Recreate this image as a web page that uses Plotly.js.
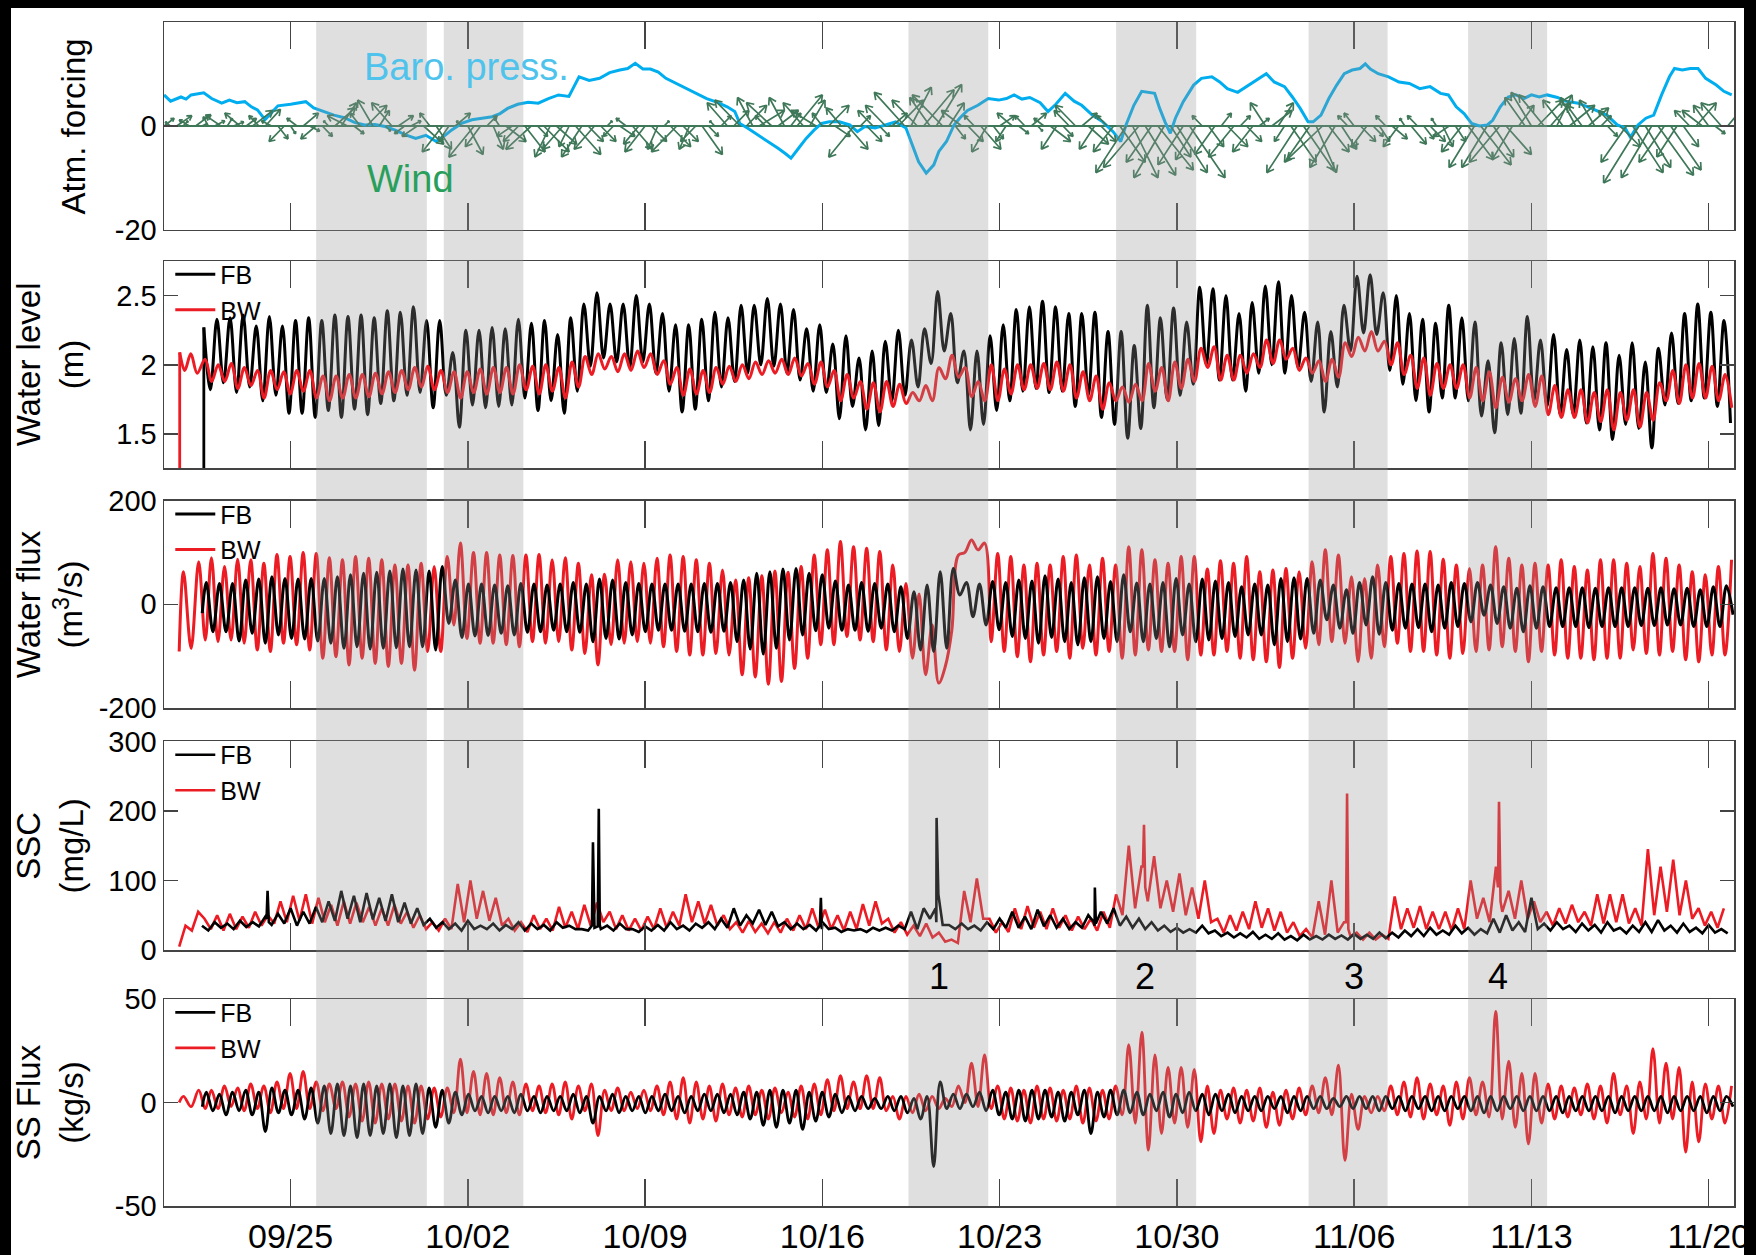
<!DOCTYPE html>
<html><head><meta charset="utf-8">
<script src="https://cdn.plot.ly/plotly-3.0.1.min.js"></script>
<style>
html,body{margin:0;padding:0;background:#000;width:1756px;height:1255px;overflow:hidden}
#plot{position:absolute;left:11px;top:8px;width:1733px;height:1247px;background:#fff}
</style></head><body><div id="plot"></div>
<script>
// ---------------- DATA ----------------
// time is in days since 09/20 00:00
const tickDays = [5,12,19,26,33,40,47,54,61];
const tickText = ['09/25','10/02','10/09','10/16','10/23','10/30','11/06','11/13','11/20'];
const bandStart = [6.01, 11.05, 29.4, 37.6, 45.2, 51.5];
const bandEnd   = [10.38, 14.19, 32.55, 40.76, 48.32, 54.62];
const eventLabels = ['1','2','3','4'];
const eventDays = [30.6, 38.74, 47.0, 52.67];

// barometric pressure anomaly
const baroDays = [0,0.26,0.67,0.87,1.07,1.57,1.88,2.28,2.58,2.88,3.19,3.45,3.69,3.99,4.29,4.5,5.0,5.3,5.6,5.91,6.31,6.71,7.12,7.52,7.92,8.33,8.73,9.13,9.54,9.94,10.34,10.75,11.05,11.35,11.75,12.16,12.56,12.96,13.27,13.57,13.97,14.38,14.78,15.18,15.58,15.99,16.39,16.79,17.2,17.6,18.0,18.31,18.61,18.91,19.21,19.52,19.82,20.22,20.63,21.03,21.43,21.83,22.24,22.54,22.74,23.04,23.45,23.85,24.25,24.56,24.76,25.06,25.36,25.67,25.97,26.27,26.67,27.08,27.38,27.68,28.08,28.49,28.89,29.3,29.5,29.8,30.1,30.4,30.6,30.9,31.2,31.42,31.73,32.14,32.55,32.96,33.27,33.57,33.88,34.19,34.6,34.91,35.22,35.59,35.94,36.24,36.66,37.07,37.48,37.78,37.99,38.3,38.61,38.91,39.12,39.32,39.53,39.74,39.94,40.25,40.66,40.97,41.38,41.69,41.99,42.4,42.82,43.23,43.53,43.84,44.25,44.56,44.87,45.18,45.38,45.69,46.0,46.31,46.61,46.92,47.23,47.44,47.64,47.95,48.36,48.77,49.18,49.59,50.0,50.41,50.72,51.03,51.34,51.64,51.95,52.26,52.47,52.77,53.08,53.39,53.7,54.0,54.31,54.62,55.03,55.34,55.85,56.37,56.98,57.39,57.7,57.91,58.21,58.52,58.83,59.14,59.45,59.65,59.96,60.27,60.58,60.88,61.3,61.6,61.91];
const baroVals = [6.0,4.8,5.6,5.2,6.0,6.4,5.3,4.4,5.0,4.5,4.7,3.7,3.1,1.2,2.8,3.9,4.2,4.4,4.7,3.5,2.8,2.1,1.6,0.7,0.2,0.3,-0.1,-0.8,-1.7,-2.4,-1.8,-3.0,-2.0,-0.8,0.5,1.2,1.5,1.8,2.4,3.4,4.2,4.6,4.4,5.3,6.0,5.7,9.5,8.8,9.2,10.3,10.8,11.1,12.1,11.0,11.0,10.4,9.2,8.2,7.2,6.3,5.3,4.6,3.7,2.8,0.5,-0.4,-1.7,-3.0,-4.3,-5.4,-6.2,-4.3,-2.4,-0.8,0.5,0.8,0.8,0.2,-1.1,-0.1,-0.4,0.2,0.8,-0.4,-3.0,-6.9,-9.1,-7.5,-4.9,-3.0,0.2,1.5,3.0,4.0,5.3,5.0,5.3,6.0,5.2,5.5,4.5,2.8,4.2,6.3,4.8,4.0,2.1,0.8,-1.1,-3.0,0.2,4.0,6.7,6.5,6.3,3.4,0.8,-1.4,1.5,4.7,7.9,9.2,9.5,8.5,7.2,6.5,7.9,9.2,10.1,8.5,7.6,5.6,3.4,0.8,0.8,2.1,5.3,7.9,10.1,10.8,11.1,12.0,11.0,10.1,9.5,8.5,8.2,7.2,7.6,6.3,6.0,3.7,2.4,0.5,0.0,0.2,1.1,3.7,5.6,6.0,5.3,6.0,5.6,6.0,5.5,4.8,4.4,3.4,2.1,0.2,-0.4,-2.2,0.2,1.5,2.1,6.0,9.5,11.1,10.8,11.1,11.1,9.2,7.9,6.7,6.0];

// wind components, 6-hourly from day 0
const WIND_T0 = 0, WIND_DT = 0.25, WIND_U_SCALE = 0.2;
const windV = [1.5,0.8,2.0,1.0, 1.2,2.2,0.5,1.8, 1.0,2.0,1.5,0.8, 2.5,1.5,3.0,2.0, 3.2,1.0,-2.5,-3.0, -1.5,1.5,2.5,-1.0, -2.5,-2.0,1.0,3.5, 4.5,2.0,-1.5,2.5, 4.0,5.0,3.0,-1.0, 4.5,2.0,-1.5,1.0,
 -2.0,-3.5,2.5,-4.5, -5.0,-3.0,2.5,1.0, -5.5,-6.0,-4.0,2.0, -4.5,1.5,-3.0,-2.0, -3.0,-5.0,-4.5,-2.0, -5.0,-6.0,-3.5,-4.5, -4.0,-5.5,-6.0,-3.0, -4.5,-3.0,1.0,-2.0, -2.0,1.5,-4.5,-3.5, -5.0,-3.0,-4.5,1.0,
 -4.0,-5.0,-3.0,-4.5, -3.0,-5.5,-2.0,1.0, 2.0,4.5,3.0,5.0, 4.0,5.5,3.0,2.0, 4.5,3.0,5.5,2.5, 6.0,4.5,5.0,3.0, 2.5,4.0,-2.0,3.5, -4.5,-6.0,2.0,-3.0, 3.0,-2.0,4.0,2.5, 5.0,6.5,7.5,5.0,
 7.0,5.5,8.0,6.0, 4.5,-2.5,3.0,-3.0, 2.0,-4.5,-5.0,-2.5, 2.0,-3.0,2.5,-1.5, 2.0,2.5,-1.0,1.5, -3.0,-4.5,-2.0,3.0, 4.0,2.5,-3.5,-4.5, -3.0,2.0,-5.0,-7.0, -9.0,-10.0,-8.0,-9.5, -7.0,-8.5,-10.0,-6.0,
 -9.0,-7.5,-10.0,-6.5, 2.0,-4.0,-5.5,2.5, -4.0,-6.0,2.0,-3.0, -5.0,1.5,4.5,3.0, 4.5,-3.0,-7.0,-9.0, -8.5,-7.0,-9.0,-6.5, -5.0,-8.0,-4.5,2.0, 2.5,-3.0,-4.0,-2.0, -3.0,2.0,-2.5,-4.0, 1.5,-3.5,2.0,-2.5,
 -3.0,1.5,-4.0,-2.0, -3.0,-5.0,-6.5,-8.0, -7.5,-8.0,-6.0,-7.0, -5.5,-6.5,4.0,5.5, 6.5,5.0,6.0,4.5, 6.0,5.0,4.0,5.5, 4.0,3.5,5.0,2.0, -2.0,3.0,-4.0,-7.0, -9.0,-11.0,-8.0,-10.0, -9.5,-7.0,-8.5,-6.0,
 -4.0,3.0,4.5,3.0, 4.0,-1.5,4.5,3.5];
const windU = [2,-1,3,1, -2,3,1,-1, 2,-3,1,2, -3,2,4,-2, 3,-2,2,-3, 1,-2,3,2, -3,2,-1,4, 3,-4,2,-2, 4,-3,2,1, -4,3,-2,2,
 -3,4,-2,3, -4,-2,3,-1, 3,-5,-3,2, 2,-1,4,-3, -3,4,-5,2, 5,-3,4,-4, -2,5,-4,3, -4,3,1,-2, 3,-2,4,-3, -4,3,-2,1,
 4,-5,3,-2, -3,4,2,-1, 2,-4,3,-5, 4,-3,5,-2, -5,4,-3,2, 5,-4,3,-5, -2,4,3,-3, 4,-5,2,3, -3,2,-4,3, 5,-6,4,-5,
 6,-4,5,-6, 3,2,-4,3, -2,4,-3,2, 3,-2,-3,2, -2,3,1,-2, 4,-3,2,-3, -4,3,4,-3, 3,-2,-4,5, -6,5,-7,6, -5,7,-6,4,
 6,-5,7,-4, -2,3,-4,2, 4,-5,2,3, -4,2,-3,4, 3,-2,5,-6, 6,-5,4,-7, 4,-5,3,-2, -2,3,-3,2, 2,-2,3,-3, -1,3,-2,2,
 3,-1,2,-3, 2,-4,5,-5, 6,-5,4,-6, 5,-4,3,-4, -4,5,-5,4, 3,-4,5,-3, -3,4,-3,2, 2,-3,4,-5, 6,-7,5,-6, 7,-5,6,-4,
 3,-3,4,-4, -3,2,-4,3];

// tidal series: successive high / low values, semidiurnal period
const TIDE_P = 0.5175;
const WL_FB_T0 = 1.573, WL_BW_T0 = 1.623;
const wlFBHigh = [2.27,2.33,2.34,2.36,2.28,2.35,2.28,2.32,2.34,2.32,2.36,2.35,2.36,2.34,2.39,2.38,2.42,2.32,2.32,2.09,2.25,2.25,2.27,2.26,2.33,2.30,2.32,2.22,2.34,2.44,2.52,2.44,2.44,2.50,2.44,2.37,2.29,2.29,2.33,2.38,2.34,2.43,2.43,2.48,2.44,2.40,2.26,2.29,2.15,2.21,2.05,2.10,2.17,2.25,2.18,2.26,2.53,2.37,2.10,2.10,2.21,2.29,2.40,2.42,2.46,2.42,2.37,2.37,2.38,2.24,2.24,2.14,2.43,2.34,2.41,2.31,2.56,2.55,2.50,2.37,2.45,2.57,2.60,2.50,2.38,2.31,2.24,2.43,2.64,2.65,2.52,2.50,2.37,2.33,2.30,2.43,2.34,2.31,2.03,2.16,2.19,2.35,2.18,2.22,2.11,2.18,2.13,2.16,2.07,2.16,2.02,2.12,2.23,2.37,2.44,2.38,2.32];
const wlFBLow = [1.82,1.87,1.80,1.84,1.74,1.78,1.65,1.65,1.62,1.67,1.62,1.68,1.64,1.72,1.74,1.78,1.80,1.69,1.78,1.55,1.71,1.69,1.70,1.71,1.76,1.67,1.74,1.65,1.81,1.99,2.05,2.02,1.98,2.02,1.94,1.81,1.66,1.68,1.74,1.84,1.88,1.94,2.00,1.99,1.94,1.89,1.81,1.80,1.61,1.70,1.53,1.56,1.74,1.78,1.84,2.01,2.10,1.87,1.53,1.57,1.67,1.74,1.81,1.83,1.80,1.81,1.70,1.78,1.62,1.57,1.47,1.54,1.69,1.75,1.78,1.86,2.00,1.89,1.89,1.81,1.94,2.00,1.94,1.98,1.88,1.66,1.84,2.10,2.23,2.22,1.96,1.86,1.74,1.66,1.76,1.76,1.74,1.63,1.51,1.64,1.65,1.74,1.70,1.64,1.64,1.58,1.53,1.46,1.57,1.54,1.40,1.71,1.72,1.74,1.76,1.70];
const wlFBEnd = 1.58;
const wlBWPreDays = [0.62,0.82,1.06,1.31];
const wlBWPreVals = [2.09,1.96,2.08,1.94];
const wlBWHigh = [2.04,2.00,2.01,1.98,1.96,1.96,1.95,1.96,1.96,1.92,1.92,1.93,1.93,1.94,1.95,1.96,1.98,1.99,1.96,1.95,1.95,1.97,1.98,1.98,2.00,1.99,2.00,1.98,2.02,2.06,2.08,2.06,2.08,2.10,2.08,2.03,1.98,1.97,1.96,1.98,1.99,2.00,2.02,2.03,2.04,2.05,2.01,2.02,1.96,1.93,1.88,1.87,1.88,1.86,1.80,1.85,1.98,2.07,1.98,1.88,2.00,1.97,2.00,2.00,2.01,2.02,2.00,1.95,1.92,1.87,1.84,1.86,2.01,1.98,2.02,2.04,2.12,2.13,2.07,2.07,2.08,2.18,2.18,2.12,2.05,2.03,2.04,2.16,2.20,2.24,2.17,2.16,2.07,2.05,2.01,2.00,2.00,1.98,1.95,1.91,1.90,1.93,1.92,1.85,1.82,1.82,1.80,1.82,1.80,1.82,1.80,1.87,1.96,2.00,2.01,1.99,1.93];
const wlBWLow = [1.88,1.88,1.83,1.85,1.76,1.82,1.79,1.81,1.76,1.74,1.76,1.76,1.77,1.79,1.80,1.82,1.84,1.82,1.80,1.76,1.80,1.79,1.80,1.79,1.82,1.79,1.81,1.76,1.84,1.93,1.97,1.95,1.96,1.98,1.93,1.86,1.78,1.79,1.80,1.86,1.88,1.90,1.93,1.94,1.93,1.92,1.86,1.84,1.74,1.76,1.68,1.66,1.70,1.72,1.74,1.74,1.90,1.91,1.77,1.74,1.74,1.79,1.82,1.83,1.82,1.81,1.76,1.74,1.68,1.74,1.73,1.74,1.81,1.74,1.83,1.88,1.98,1.89,1.89,1.94,1.98,2.01,2.04,1.96,1.94,1.88,1.91,2.06,2.10,2.10,2.00,1.93,1.83,1.78,1.83,1.83,1.76,1.74,1.69,1.73,1.74,1.70,1.64,1.62,1.62,1.58,1.59,1.53,1.60,1.55,1.60,1.74,1.72,1.76,1.76,1.74];
const wlBWEnd = 1.69;
const WL_OFFSCALE = 1.0; // value before the sensors start recording

// water flux (m3/s)
const FLUX_FB_T0 = 1.673, FLUX_BW_T0 = 1.873;
const fluxFBPreDays = [1.51], fluxFBPreVals = [-17];
const fluxFBHigh = [42,40,40,47,49,53,50,49,50,50, 53,57,60,62,64,68,66,64,73,47, 39,39,37,36,40,39,37,39,42,39, 49,47,42,40,39,39,39,39,40,40, 42,47,60,63,68,69,60,57,45,37, 42,40,39,34,24,37,63,69,42,39, 44,42,47,45,55,49,42,51,53,44, 57,41,39,42,50,39,49,45,42,34, 39,37,50,51,50,47,37,28,42,53, 42,40,39,39,37,42,40,42,37,34, 31,36,34,32,32,32,31,32,32,32, 31,32,30,31,28,34,36];
const fluxFBLow = [-53,-53,-71,-56,-75,-59,-66,-67,-71,-75, -85,-82,-86,-85,-84,-82,-82,-88,-37,-64, -61,-60,-56,-59,-54,-53,-50,-53,-54,-72, -66,-67,-59,-53,-50,-50,-52,-53,-54,-52, -72,-86,-96,-85,-69,-59,-51,-46,-50,-50, -52,-46,-53,-66,-88,-91,-85,18,-24,-40, -49,-62,-66,-75,-64,-72,-78,-72,-66,-72, -53,-72,-66,-82,-59,-72,-69,-66,-62,-59, -59,-78,-72,-67,-56,-30,-46,-56,-40,-58, -50,-46,-45,-53,-46,-43,-34,-21,-37,-46, -53,-46,-43,-43,-43,-45,-43,-43,-43,-41, -41,-40,-40,-43,-43,-43];
const fluxFBEnd = -20;
const fluxBWPreDays = [0.6,0.77,1.07,1.37,1.63];
const fluxBWPreVals = [-91,63,-85,82,-69];
const fluxBWHigh = [90,73,87,86,79,96,92,100,98,90, 86,92,89,86,76,76,79,73,92,118, 100,100,95,94,95,96,86,90,79,57, 58,86,82,79,89,95,92,86,79,66, 47,51,55,64,62,73,95,105,121,111, 108,102,76,40,20,-40,-120,95,124,118, 98,92,76,79,76,92,95,76,89,76, 111,105,86,79,92,92,68,84,79,92, 63,66,69,63,82,105,95,53,50,76, 92,98,103,102,87,76,69,76,111,89, 76,79,76,86,73,66,86,86,79,73, 98,89,76,63,57,73,86];
const fluxBWLow = [-72,-69,-75,-88,-91,-75,-78,-88,-104,-101, -117,-104,-114,-120,-114,-127,-91,-91,-40,-66, -75,-75,-78,-82,-72,-75,-72,-88,-95,-117, -78,-75,-72,-75,-82,-91,-98,-98,-95,-98, -136,-140,-154,-149,-124,-104,-78,-78,-62,-69, -72,-88,-91,-104,-136,-152,-50,100,105,-72, -91,-101,-111,-98,-91,-104,-85,-98,-91,-104, -98,-88,-91,-91,-107,-98,-98,-91,-104,-107, -111,-122,-104,-85,-78,-72,-75,-111,-104,-82, -75,-91,-91,-98,-104,-95,-91,-88,-82,-91, -111,-91,-98,-104,-104,-107,-104,-104,-88,-95, -98,-91,-107,-111,-98,-98];

// suspended sediment concentration (mg/L), 6-hourly, plus short spikes
const SSC_DT = 0.25, SSC_FB_T0 = 1.5, SSC_BW_T0 = 0.6;
const sscFB = [35,28,40,32, 38,30,42,33, 40,34,48,36, 52,38,60,35, 55,38,62,40, 70,42,85,45, 78,40,82,44, 75,42,80,40, 68,38,60,36, 45,32,40,30,
 38,28,42,30, 35,30,38,28, 36,30,40,28, 38,30,36,28, 40,32,35,30, 30,28,32,30, 35,28,38,30, 30,26,34,28, 36,28,40,30, 35,28,38,32,
 40,30,45,32, 60,35,50,38, 58,36,55,34, 40,30,38,30, 36,28,40,30, 32,26,30,28, 30,26,32,28, 32,28,35,30, 55,30,60,45, 40,36,36,30,
 38,30,35,28, 40,30,45,32, 55,32,48,30, 58,34,50,32, 45,30,40,32, 50,35,55,38, 60,35,48,32, 45,30,40,28, 35,26,32,25, 30,25,35,24,
 28,20,25,18, 24,18,26,16, 22,16,24,15, 20,14,22,15, 20,15,22,16, 21,15,23,16, 22,16,25,17, 25,18,28,20, 30,20,32,22, 28,22,35,24,
 32,22,30,24, 45,25,50,28, 40,26,75,30, 38,28,40,30, 35,26,38,28, 36,25,40,28, 32,24,35,26, 40,26,43,28, 35,25,38,26, 32,24,36,25, 30,24];
const sscFBSpikeDays = [4.05,4.09,4.14, 16.9,16.94,16.98, 17.13,17.17,17.21, 25.9,25.94,25.98, 30.47,30.51,30.58, 36.72,36.76,36.8];
const sscFBSpikeVals = [45,85,40, 35,155,32, 34,203,36, 35,75,30, 60,190,80, 40,90,38];
const sscBW = [5,35,28,55, 45,30,50,28, 52,30,48,32, 55,35,50,38, 70,40,78,42, 80,38,75,40, 65,35,70,38, 68,40,62,35, 60,35,65,38, 55,32,50,30,
 40,28,45,30, 95,40,100,45, 85,42,75,35, 45,28,40,26, 50,30,45,28, 62,32,55,30, 65,35,68,40, 55,30,50,28, 45,28,48,30, 60,32,55,35,
 80,40,70,38, 65,35,50,30, 40,25,42,26, 38,24,40,25, 45,28,50,30, 60,32,58,30, 50,28,55,30, 66,35,70,38, 45,25,40,22, 35,20,38,18,
 25,12,15,10, 85,40,103,45, 45,25,40,26, 60,30,63,32, 55,30,60,32, 50,28,48,30, 45,28,55,32, 80,50,150,60, 120,70,135,60, 100,55,110,50,
 90,45,100,40, 45,25,50,28, 55,30,70,32, 60,28,55,25, 40,20,30,18, 70,22,100,25, 40,20,25,15, 25,15,22,16, 77,30,60,32, 63,30,55,30,
 55,28,60,30, 100,45,75,40, 120,55,85,45, 100,45,70,40, 55,35,60,38, 65,40,55,35, 80,38,80,40, 80,38,60,35, 145,50,120,55, 130,50,100,45,
 60,35,55,32, 60];
const sscBWSpikeDays = [38.66,38.7,38.75, 46.68,46.72,46.77, 52.68,52.72,52.78];
const sscBWSpikeVals = [120,180,90, 40,225,30, 90,213,70];

// suspended sediment flux (kg/s)
const ssFBPreDays = [1.51], ssFBPreVals = [-2];
const ssFBHigh = [5,4,5,6,5,7,6,6,7,8, 9,8,9,8,9,8,9,7,6,5, 4,3,3,3,4,3,3,3,4,3, 3,4,3,3,3,4,3,3,4,4, 4,5,5,6,6,6,5,5,4,3, 3,2,3,3,2,3,10,4,4,5, 6,5,6,6,6,5,5,6,5,6, 6,5,4,5,4,5,4,4,4,3, 3,3,3,3,3,3,2,3,3,3, 3,3,3,3,3,3,3,3,3,3, 3,3,3,3,3,3,3,3,3,3, 3,3,3,3,3,3,3];
const ssFBLow = [-4,-6,-4,-6,-14,-5,-6,-8,-10,-15, -16,-17,-16,-15,-17,-16,-15,-12,-10,-6, -4,-5,-4,-5,-4,-5,-4,-4,-5,-10, -4,-5,-4,-5,-4,-4,-5,-4,-4,-5, -6,-8,-11,-12,-10,-13,-9,-7,-5,-4, -3,-3,-4,-5,-8,-31,-3,-3,-2,-4, -6,-8,-9,-8,-7,-9,-6,-15,-7,-6, -5,-6,-4,-7,-5,-4,-6,-4,-5,-4, -4,-3,-5,-4,-3,-3,-2,-3,-3,-4, -3,-4,-3,-4,-4,-3,-4,-5,-4,-3, -4,-4,-4,-5,-4,-4,-4,-5,-4,-4, -4,-5,-4,-4,-5,-4];
const ssFBEnd = -2;
const ssBWPreDays = [0.6,0.77,1.07,1.37,1.63];
const ssBWPreVals = [0,3,-2,6,-3];
const ssBWHigh = [6,8,7,9,8,10,14,15,10,9, 10,9,10,9,9,8,8,7,7,21, 15,14,12,10,9,8,9,10,8,9, 6,7,5,6,8,10,12,10,8,9, 7,8,6,7,5,8,9,11,13,10, 13,12,3,3,4,3,2,8,19,23, 8,7,6,8,7,6,8,7,6,8, 28,34,23,17,17,16,8,6,7,6, 7,5,6,7,8,12,18,4,3,3, 8,10,12,9,8,10,12,10,44,20, 14,14,9,8,7,9,8,14,8,10, 26,19,17,10,9,8,8];
const ssBWLow = [-3,-2,-4,-3,-5,-3,-3,-3,-4,-3, -7,-9,-10,-8,-9,-10,-8,-7,-5,-5, -6,-6,-5,-6,-4,-5,-6,-8,-4,-16, -4,-4,-3,-4,-6,-8,-10,-8,-9,-6, -7,-6,-8,-5,-7,-8,-6,-4,-3,-3, -3,-4,-8,-5,-4,-3,-2,0,-2,-3, -8,-9,-10,-8,-9,-8,-10,-9,-8,-6, -10,-23,-15,-10,-12,-19,-15,-8,-10,-9, -12,-11,-8,-6,-5,-6,-28,-13,-5,-4, -6,-7,-8,-6,-11,-8,-6,-7,-8,-12, -20,-10,-8,-7,-6,-8,-10,-6,-15,-8, -10,-8,-24,-19,-8,-10];

// ---------------- helpers ----------------
const DAY_MS = 86400000;
const BASE_MS = Date.UTC(2016, 8, 20);
function dstr(d){ return new Date(BASE_MS + Math.round(d*DAY_MS)).toISOString().slice(0,19).replace('T',' '); }
function zipPairs(days, vals){ return days.map((d,i)=>[d, vals[i]]); }
function tideSeries(preDays, preVals, t0, highs, lows, endVal){
  const x=[], y=[];
  zipPairs(preDays, preVals).forEach(p=>{x.push(dstr(p[0])); y.push(p[1]);});
  let last = t0;
  for(let k=0;k<highs.length;k++){
    const th = t0 + k*TIDE_P;
    x.push(dstr(th)); y.push(highs[k]); last = th;
    if(k<lows.length){ x.push(dstr(th+TIDE_P/2)); y.push(lows[k]); last = th+TIDE_P/2; }
  }
  if(endVal!==undefined && endVal!==null){ x.push(dstr(Math.min(62, last+TIDE_P/2))); y.push(endVal); }
  return {x,y};
}
function sampled(t0, dt, vals, spikeDays, spikeVals){
  const pts = vals.map((v,i)=>[t0+i*dt, v]).concat(zipPairs(spikeDays, spikeVals));
  pts.sort((a,b)=>a[0]-b[0]);
  return {x: pts.map(p=>dstr(p[0])), y: pts.map(p=>p[1])};
}

const FONT = 'Liberation Sans, Arial, sans-serif';
const RED = '#ec1c24', BLACK = '#000000', BLUE = '#00aeef', GREEN = 'rgb(62,120,88)';

// ---------------- layout geometry ----------------
const H = 1184, BOT = 1206, PLOT_W = 1570;
function dom(topPx, botPx){ return [(BOT-botPx)/H, (BOT-topPx)/H]; }
const doms = [dom(22.4,229.6), dom(261,468), dom(500.6,708), dom(741.4,950), dom(999,1206)];
const PX_PER_DAY = PLOT_W/62, PX_PER_UNIT1 = (229.6-22.4)/40;

const traces = [];
// Panel 1: atmospheric forcing
traces.push({type:'scatter', mode:'lines', x: baroDays.map(dstr), y: baroVals, xaxis:'x', yaxis:'y',
  line:{color:BLUE, width:3}, showlegend:false, hoverinfo:'skip'});
// wind sticks with small arrow heads
const wx=[], wy=[];
for(let i=0;i<windV.length;i++){
  const t = WIND_T0 + i*WIND_DT;
  const du = windU[i]*WIND_U_SCALE, v = windV[i];
  wx.push(dstr(t), dstr(t + du)); wy.push(0, v);
  const px = du*PX_PER_DAY, py = v*PX_PER_UNIT1, L = Math.hypot(px,py);
  if(L > 4){
    const ang = Math.atan2(py, px), h = Math.min(8, 0.3*L);
    [-0.55, 0.55].forEach((a,j)=>{
      const hx = px - h*Math.cos(ang + a), hy = py - h*Math.sin(ang + a);
      if(j===0){ wx.push(dstr(t + hx/PX_PER_DAY)); wy.push(hy/PX_PER_UNIT1); }
      else { wx.push(null, dstr(t+du), dstr(t + hx/PX_PER_DAY)); wy.push(null, v, hy/PX_PER_UNIT1); }
    });
  }
  wx.push(null); wy.push(null);
}
traces.push({type:'scatter', mode:'lines', x: wx, y: wy, xaxis:'x', yaxis:'y',
  line:{color:GREEN, width:1.7}, showlegend:false, hoverinfo:'skip'});

// Panel 2: water level
const wlFB = tideSeries([], [], WL_FB_T0, wlFBHigh, wlFBLow, wlFBEnd);
const wlBW = tideSeries(wlBWPreDays, wlBWPreVals, WL_BW_T0, wlBWHigh, wlBWLow, wlBWEnd);
traces.push({type:'scatter', mode:'lines', x:[dstr(WL_FB_T0),dstr(WL_FB_T0)], y:[WL_OFFSCALE, wlFBHigh[0]], xaxis:'x2', yaxis:'y2', line:{color:BLACK,width:2.8}, showlegend:false});
traces.push({type:'scatter', mode:'lines', x:[dstr(wlBWPreDays[0]),dstr(wlBWPreDays[0])], y:[WL_OFFSCALE, wlBWPreVals[0]], xaxis:'x2', yaxis:'y2', line:{color:RED,width:2.8}, showlegend:false});
traces.push({type:'scatter', mode:'lines', name:'FB', x:wlFB.x, y:wlFB.y, xaxis:'x2', yaxis:'y2', line:{color:BLACK,width:3,shape:'spline',smoothing:1}, legend:'legend', legendrank:1});
traces.push({type:'scatter', mode:'lines', name:'BW', x:wlBW.x, y:wlBW.y, xaxis:'x2', yaxis:'y2', line:{color:RED,width:3,shape:'spline',smoothing:1}, legend:'legend', legendrank:2});

// Panel 3: water flux
const qFB = tideSeries(fluxFBPreDays, fluxFBPreVals, FLUX_FB_T0, fluxFBHigh, fluxFBLow, fluxFBEnd);
const qBW = tideSeries(fluxBWPreDays, fluxBWPreVals, FLUX_BW_T0, fluxBWHigh, fluxBWLow);
traces.push({type:'scatter', mode:'lines', name:'BW', x:qBW.x, y:qBW.y, xaxis:'x3', yaxis:'y3', line:{color:RED,width:3,shape:'spline',smoothing:1}, legend:'legend2', legendrank:2});
traces.push({type:'scatter', mode:'lines', name:'FB', x:qFB.x, y:qFB.y, xaxis:'x3', yaxis:'y3', line:{color:BLACK,width:3,shape:'spline',smoothing:1}, legend:'legend2', legendrank:1});

// Panel 4: SSC
const cFB = sampled(SSC_FB_T0, SSC_DT, sscFB, sscFBSpikeDays, sscFBSpikeVals);
const cBW = sampled(SSC_BW_T0, SSC_DT, sscBW, sscBWSpikeDays, sscBWSpikeVals);
traces.push({type:'scatter', mode:'lines', name:'BW', x:cBW.x, y:cBW.y, xaxis:'x4', yaxis:'y4', line:{color:RED,width:2.6}, legend:'legend3', legendrank:2});
traces.push({type:'scatter', mode:'lines', name:'FB', x:cFB.x, y:cFB.y, xaxis:'x4', yaxis:'y4', line:{color:BLACK,width:2.6}, legend:'legend3', legendrank:1});

// Panel 5: SS flux
const sFB = tideSeries(ssFBPreDays, ssFBPreVals, FLUX_FB_T0, ssFBHigh, ssFBLow, ssFBEnd);
const sBW = tideSeries(ssBWPreDays, ssBWPreVals, FLUX_BW_T0, ssBWHigh, ssBWLow);
traces.push({type:'scatter', mode:'lines', name:'BW', x:sBW.x, y:sBW.y, xaxis:'x5', yaxis:'y5', line:{color:RED,width:2.8,shape:'spline',smoothing:1}, legend:'legend4', legendrank:2});
traces.push({type:'scatter', mode:'lines', name:'FB', x:sFB.x, y:sFB.y, xaxis:'x5', yaxis:'y5', line:{color:BLACK,width:2.8,shape:'spline',smoothing:1}, legend:'legend4', legendrank:1});

// ---------------- layout ----------------
function xax(anchor, labels){
  return {type:'date', range:[dstr(0), dstr(62)], anchor:anchor, showgrid:false, zeroline:false,
    showline:true, linecolor:'#444', linewidth:1.5, mirror:'ticks', ticks:'inside', ticklen:27, tickwidth:1.5, tickcolor:'#444',
    tickmode:'array', tickvals: tickDays.map(dstr), ticktext: tickText, showticklabels: labels, ticklabeloverflow:'allow',
    tickfont:{family:FONT, size:34, color:'#000'}};
}
function yax(d, range, tv, tt, anchor){
  return {domain:d, range:range, anchor:anchor, showgrid:false, zeroline:false, showline:true, linecolor:'#444', linewidth:1.5,
    mirror:'ticks', ticks:'inside', ticklen:14, tickwidth:1.5, tickcolor:'#444', tickmode:'array', tickvals:tv, ticktext:tt,
    tickfont:{family:FONT, size:29, color:'#000'}};
}
const layout = {
  width:1733, height:1247, paper_bgcolor:'#fff', plot_bgcolor:'rgba(0,0,0,0)',
  margin:{l:153, r:10, t:14, b:49}, showlegend:true,
  font:{family:FONT, color:'#000'},
  xaxis: xax('y', false), xaxis2: xax('y2', false), xaxis3: xax('y3', false), xaxis4: xax('y4', false), xaxis5: xax('y5', true),
  yaxis: Object.assign(yax(doms[0], [-20,20], [-20,0,20], ['-20','0','20'], 'x'), {zeroline:true, zerolinecolor:GREEN, zerolinewidth:2.5}),
  yaxis2: yax(doms[1], [1.255,2.75], [1.5,2,2.5], ['1.5','2','2.5'], 'x2'),
  yaxis3: yax(doms[2], [-200,200], [-200,0,200], ['-200','0','200'], 'x3'),
  yaxis4: yax(doms[3], [0,300], [0,100,200,300], ['0','100','200','300'], 'x4'),
  yaxis5: yax(doms[4], [-50,50], [-50,0,50], ['-50','0','50'], 'x5'),
  shapes: bandStart.map((s,i)=>({type:'rect', xref:'x', yref:'paper', x0:dstr(s), x1:dstr(bandEnd[i]), y0:0, y1:1,
    fillcolor:'rgba(150,150,150,0.30)', line:{width:0}, layer:'above'})),
  annotations: []
};
const legBase = {x:0.004, xanchor:'left', yanchor:'top', bgcolor:'rgba(0,0,0,0)', borderwidth:0, itemwidth:40,
  font:{family:FONT, size:25, color:'#000'}, tracegroupgap:0, traceorder:'normal'};
layout.legend = Object.assign({}, legBase, {y: doms[1][1]+0.008});
layout.legend2 = Object.assign({}, legBase, {y: doms[2][1]+0.008});
layout.legend3 = Object.assign({}, legBase, {y: doms[3][1]+0.008});
layout.legend4 = Object.assign({}, legBase, {y: doms[4][1]+0.008});

const yTitles = ['Atm. forcing', 'Water level<br>(m)', 'Water flux<br>(m<sup>3</sup>/s)', 'SSC<br>(mg/L)', 'SS Flux<br>(kg/s)'];
yTitles.forEach((t,i)=>{
  layout.annotations.push({text:t, xref:'paper', yref:'paper', x: i===0 ? -0.0577 : -0.0727, y:(doms[i][0]+doms[i][1])/2,
    xanchor:'center', yanchor:'middle', textangle:-90, showarrow:false, font:{family:FONT, size:33, color:'#000'}});
});
layout.annotations.push({text:'Baro. press.', xref:'x', yref:'y', x:dstr(11.94), y:11.4, showarrow:false,
  font:{family:FONT, size:38, color:'#4fc3ec'}});
layout.annotations.push({text:'Wind', xref:'x', yref:'y', x:dstr(9.73), y:-10.2, showarrow:false,
  font:{family:FONT, size:38, color:'#2a9f5c'}});
eventLabels.forEach((t,i)=>{
  layout.annotations.push({text:t, xref:'x', yref:'paper', x:dstr(eventDays[i]), y:(BOT-999)/H, showarrow:false,
    font:{family:FONT, size:36, color:'#000'}});
});

Plotly.newPlot('plot', traces, layout, {staticPlot:true, displayModeBar:false});
</script></body></html>
